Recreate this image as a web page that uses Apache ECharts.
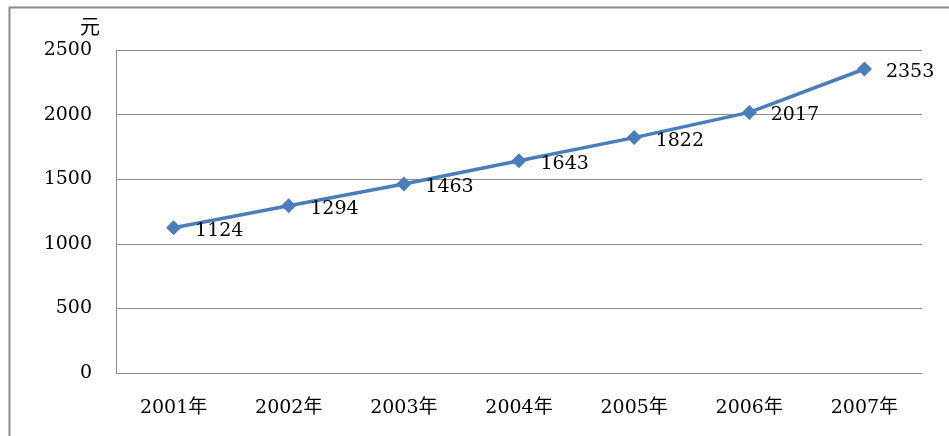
<!DOCTYPE html>
<html><head><meta charset="utf-8">
<script src="https://cdn.jsdelivr.net/npm/echarts@6/dist/echarts.min.js"></script>
<style>html,body{margin:0;padding:0;background:#fff}#c{width:949px;height:436px}</style>
</head><body><div id="c"></div>
<script>
var categories = ['2001年','2002年','2003年','2004年','2005年','2006年','2007年'];
var values = [1124, 1294, 1463, 1643, 1822, 2017, 2353];
var yTicks = [0, 500, 1000, 1500, 2000, 2500];
var unitName = '元';

var font = '"DejaVu Serif","Noto Sans CJK SC",serif';
var chart = echarts.init(document.getElementById('c'));
chart.setOption({
  animation: false,
  backgroundColor: '#fff',
  graphic: [{
    type: 'rect', left: 7, top: 5, shape: {x: 0, y: 0, width: 1000, height: 500},
    style: {fill: 'none', stroke: '#8a8a8a', lineWidth: 2}, silent: true, z: -1
  }],
  grid: {left: 116, right: 27, top: 50, bottom: 63},
  xAxis: {
    type: 'category', data: categories, boundaryGap: true,
    axisLine: {show: true, lineStyle: {color: '#8c8c8c', width: 1}},
    axisTick: {show: false},
    axisLabel: {color: '#000', fontFamily: font, fontSize: 19, margin: 26}
  },
  yAxis: {
    type: 'value', min: yTicks[0], max: yTicks[yTicks.length - 1], interval: 500,
    name: unitName, nameLocation: 'end', nameGap: 11,
    nameTextStyle: {color: '#000', fontFamily: font, fontSize: 20, align: 'right', padding: [0, 16, 0, 0]},
    axisLine: {show: true, lineStyle: {color: '#8c8c8c', width: 1}},
    axisTick: {show: false},
    splitLine: {lineStyle: {color: '#8c8c8c', width: 1}},
    axisLabel: {color: '#000', fontFamily: font, fontSize: 19, margin: 24,
                formatter: function (v) { return String(v); }}
  },
  series: [{
    type: 'line', data: values,
    symbol: 'diamond', symbolSize: 15,
    lineStyle: {color: '#4a7ebb', width: 3.5},
    itemStyle: {color: '#4a7ebb'},
    label: {show: true, position: 'right', distance: 14, offset: [0, 3],
            color: '#000', fontFamily: font, fontSize: 19}
  }]
});
</script></body></html>
